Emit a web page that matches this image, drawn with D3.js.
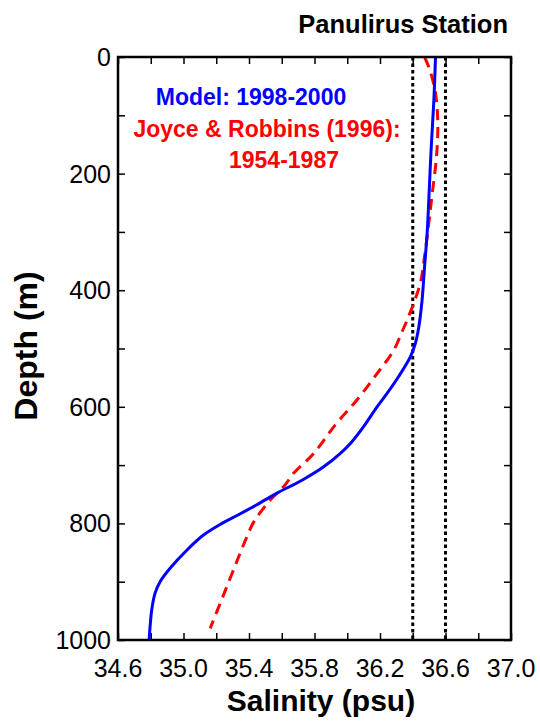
<!DOCTYPE html>
<html>
<head>
<meta charset="utf-8">
<script src="https://cdn.jsdelivr.net/npm/d3@7"></script>
<style>
  body { margin: 0; background: #fff; }
  svg text { font-family: "Liberation Sans", Arial, sans-serif; }
</style>
</head>
<body>
<div id="chart"></div>
<script>
// Model profile (1998-2000)
const modelDepth = [0, 74, 160, 245, 302, 360, 417, 463, 491, 514, 548, 577, 600, 634, 663, 680, 703, 726, 748, 768, 786, 800, 820, 846, 877, 900, 920, 948, 977, 1000];
const modelSal = [36.539, 36.529, 36.512, 36.498, 36.488, 36.472, 36.457, 36.437, 36.416, 36.386, 36.314, 36.243, 36.182, 36.10, 36.019, 35.958, 35.856, 35.724, 35.571, 35.448, 35.33, 35.235, 35.122, 35.020, 34.918, 34.857, 34.826, 34.806, 34.796, 34.79];

// Joyce & Robbins (1996) climatology 1954-1987
const obsDepth = [0, 22, 62, 114, 171, 234, 285, 342, 382, 414, 451, 471, 503, 543, 588, 631, 680, 714, 734, 760, 797, 823, 851, 875, 906, 928, 954, 980];
const obsSal = [36.472, 36.504, 36.539, 36.553, 36.545, 36.519, 36.498, 36.472, 36.451, 36.417, 36.366, 36.335, 36.284, 36.182, 36.06, 35.927, 35.795, 35.672, 35.62, 35.53, 35.43, 35.387, 35.346, 35.312, 35.268, 35.237, 35.200, 35.163];

// dotted reference lines
const refSal = [36.4, 36.6];

const xTickLabels = [34.6, 35.0, 35.4, 35.8, 36.2, 36.6, 37.0];
const yTickLabels = [0, 200, 400, 600, 800, 1000];

const width = 540, height = 723;
const margin = { top: 57, right: 29, bottom: 83, left: 118 };

const svg = d3.select("#chart").append("svg")
    .attr("width", width)
    .attr("height", height);

const x = d3.scaleLinear().domain([34.6, 37.0]).range([margin.left, width - margin.right]);
const y = d3.scaleLinear().domain([0, 1000]).range([margin.top, height - margin.bottom]);

const minorX = d3.range(34.6, 37.01, 0.2);
const minorY = d3.range(0, 1001, 100);

// inner ticks on all four sides
const tk = 7;
svg.append("g").attr("transform", `translate(0,${y(1000)})`)
    .call(d3.axisBottom(x).tickValues(minorX).tickSize(-tk).tickFormat(""));
svg.append("g").attr("transform", `translate(0,${y(0)})`)
    .call(d3.axisTop(x).tickValues(minorX).tickSize(-tk).tickFormat(""));
svg.append("g").attr("transform", `translate(${x(34.6)},0)`)
    .call(d3.axisLeft(y).tickValues(minorY).tickSize(-tk).tickFormat(""));
svg.append("g").attr("transform", `translate(${x(37.0)},0)`)
    .call(d3.axisRight(y).tickValues(minorY).tickSize(-tk).tickFormat(""));
svg.selectAll(".domain").remove();
svg.selectAll(".tick line").attr("stroke", "#000").attr("stroke-width", 1.5);

// tick labels
svg.append("g").selectAll("text").data(xTickLabels).enter().append("text")
    .attr("x", d => x(d))
    .attr("y", y(1000) + 37)
    .attr("text-anchor", "middle")
    .style("font-size", "25px")
    .text(d => d.toFixed(1));

svg.append("g").selectAll("text").data(yTickLabels).enter().append("text")
    .attr("x", x(34.6) - 7)
    .attr("y", d => y(d) + 9)
    .attr("text-anchor", "end")
    .style("font-size", "25px")
    .text(d => d);

// dotted reference lines
svg.append("g").selectAll("line").data(refSal).enter().append("line")
    .attr("x1", d => x(d)).attr("x2", d => x(d))
    .attr("y1", y(0)).attr("y2", y(1000))
    .attr("stroke", "#000")
    .attr("stroke-width", 3)
    .attr("stroke-dasharray", "3.5,3");

const line = d3.line()
    .x(d => x(d[0]))
    .y(d => y(d[1]))
    .curve(d3.curveCatmullRom.alpha(0.5));

svg.append("path")
    .datum(obsSal.map((s, i) => [s, obsDepth[i]]))
    .attr("d", line)
    .attr("fill", "none")
    .attr("stroke", "#ff0000")
    .attr("stroke-width", 3)
    .attr("stroke-dasharray", "11,7");

svg.append("path")
    .datum(modelSal.map((s, i) => [s, modelDepth[i]]))
    .attr("d", line)
    .attr("fill", "none")
    .attr("stroke", "#0000ff")
    .attr("stroke-width", 3);

// frame
svg.append("rect")
    .attr("x", x(34.6)).attr("y", y(0))
    .attr("width", x(37.0) - x(34.6))
    .attr("height", y(1000) - y(0))
    .attr("fill", "none")
    .attr("stroke", "#000")
    .attr("stroke-width", 2.5);

// legend text
svg.append("text").attr("x", 251).attr("y", 105)
    .attr("text-anchor", "middle")
    .style("font-size", "23px").style("font-weight", "bold")
    .attr("fill", "#0000ff")
    .text("Model: 1998-2000");
svg.append("text").attr("x", 267).attr("y", 137)
    .attr("text-anchor", "middle")
    .style("font-size", "23px").style("font-weight", "bold")
    .attr("fill", "#ff0000")
    .text("Joyce & Robbins (1996):");
svg.append("text").attr("x", 284).attr("y", 168)
    .attr("text-anchor", "middle")
    .style("font-size", "23px").style("font-weight", "bold")
    .attr("fill", "#ff0000")
    .text("1954-1987");

// titles
svg.append("text").attr("x", 508).attr("y", 33)
    .attr("text-anchor", "end")
    .style("font-size", "25.5px").style("font-weight", "bold")
    .text("Panulirus Station");

svg.append("text").attr("x", 321).attr("y", 711)
    .attr("text-anchor", "middle")
    .style("font-size", "30px").style("font-weight", "bold")
    .text("Salinity (psu)");

svg.append("text")
    .attr("transform", `translate(37,346) rotate(-90)`)
    .attr("text-anchor", "middle")
    .style("font-size", "32px").style("font-weight", "bold")
    .text("Depth (m)");
</script>
</body>
</html>
